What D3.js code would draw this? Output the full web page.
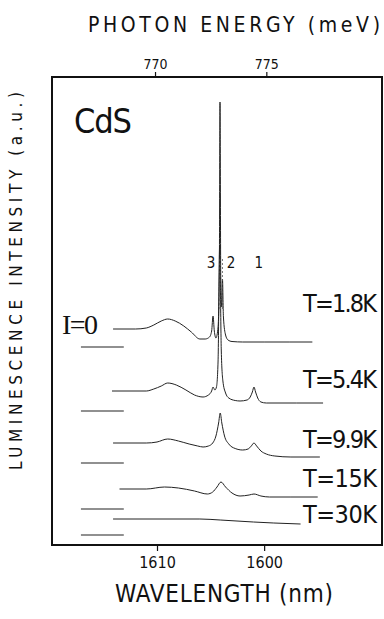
<!DOCTYPE html>
<html>
<head>
<meta charset="utf-8">
<script src="https://cdn.jsdelivr.net/npm/d3@7"></script>
<style>
  body { margin: 0; background: #fff; }
  svg { display: block; }
  text { font-family: "Liberation Sans Narrow", "DejaVu Sans Condensed", "Liberation Sans", sans-serif; fill: #111; }
</style>
</head>
<body>
<div id="chart"></div>
<script>
// temperatures, zero levels (a.u.) and spectra [wavelength nm, intensity above zero a.u.]
const temps = ['T=1.8K', 'T=5.4K', 'T=9.9K', 'T=15K', 'T=30K']
const zeroLevels = [198, 134, 82, 36, 10]
const spec18 = [[1614.1,18],[1612.0,18],[1611.0,19],[1610.3,22],[1609.6,26],[1609.0,28],[1608.3,26],[1607.5,21],[1606.8,15],[1606.0,8],[1605.5,8],[1605.1,10],[1604.9,16],[1604.77,31],[1604.65,16],[1604.5,9],[1604.3,20],[1604.18,80],[1604.12,245],[1604.05,70],[1603.95,40],[1603.89,68],[1603.8,30],[1603.6,12],[1603.37,7],[1603.0,5.5],[1602.0,5],[1600.0,5],[1597.6,5],[1595.5,5]]
const spec54 = [[1614.2,20],[1611.0,20],[1610.3,22],[1609.6,25],[1609.0,28],[1608.2,26],[1607.3,21],[1606.5,16],[1605.7,14],[1605.2,16],[1604.9,20],[1604.77,24],[1604.6,21],[1604.45,24],[1604.3,50],[1604.15,166],[1604.0,60],[1603.85,30],[1603.6,18],[1603.3,13],[1602.7,10.5],[1602.25,10],[1601.6,11],[1601.3,14],[1601.1,19],[1600.95,24],[1600.8,19],[1600.6,13],[1600.3,9],[1599.8,8],[1597.0,8],[1594.5,8]]
const spec99 = [[1614.1,20],[1611.0,20],[1610.0,21],[1609.0,24],[1608.0,22],[1607.0,19],[1606.2,17],[1605.7,16],[1605.2,17],[1604.8,20],[1604.5,27],[1604.25,40],[1604.1,50],[1603.95,40],[1603.7,27],[1603.3,19],[1602.7,14.5],[1602.0,13],[1601.5,14],[1601.2,17],[1600.95,20],[1600.7,17],[1600.3,12],[1599.8,9],[1599.0,7],[1597.5,6],[1594.8,6]]
const spec15 = [[1613.5,20],[1611.0,20],[1609.3,22],[1608.0,21],[1606.5,18],[1605.3,15],[1604.8,17],[1604.4,22],[1604.03,27],[1603.6,22],[1603.0,16],[1602.25,13],[1601.4,14],[1600.95,15],[1600.3,13],[1599.5,12],[1597.5,12],[1595.0,12]]
const spec30 = [[1614.1,16],[1610.0,16],[1606.0,16],[1604.1,15],[1601.0,13],[1599.1,12],[1596.6,11]]
const spectra = [spec18, spec54, spec99, spec15, spec30]
const zeroSpan = [1617.1, 1613.1]
const peakLabels = [['3', 1604.95], ['2', 1603.1], ['1', 1600.5]]
const peakMarks = [1604.12, 1603.89]
const waveTicks = [1610, 1600]
const energyTicks = [770, 775]
const hc = 1239842  // meV * nm

const W = 384, H = 619
const m = { left: 52, top: 77, right: 382, bottom: 545 }

const svg = d3.select('#chart').append('svg').attr('width', W).attr('height', H)

const x = d3.scaleLinear().domain([1619.8, 1589]).range([m.left, m.right])
const y = d3.scaleLinear().domain([0, 468]).range([m.bottom, m.top])

// axes
svg.append('g')
  .attr('transform', 'translate(0,' + m.bottom + ')')
  .call(d3.axisBottom(x).tickValues(waveTicks).tickSize(6).tickPadding(6).tickFormat(d3.format('d')))
  .call(g => g.select('.domain').remove())
  .call(g => g.selectAll('line').attr('stroke', '#111').attr('stroke-width', 1.2))
  .call(g => g.selectAll('text').attr('font-size', 16).attr('fill', '#111'))

svg.append('g')
  .attr('transform', 'translate(0,' + m.top + ')')
  .call(d3.axisTop(x).tickValues(energyTicks.map(e => hc / e)).tickSize(5).tickPadding(3).tickFormat(l => Math.round(hc / l)))
  .call(g => g.select('.domain').remove())
  .call(g => g.selectAll('line').attr('stroke', '#111').attr('stroke-width', 1.2))
  .call(g => g.selectAll('text').attr('font-size', 14).attr('fill', '#111'))

// frame
svg.append('rect')
  .attr('x', m.left).attr('y', m.top)
  .attr('width', m.right - m.left).attr('height', m.bottom - m.top)
  .attr('fill', 'none').attr('stroke', '#111').attr('stroke-width', 2)

// zero level marks
svg.selectAll('.zero')
  .data(zeroLevels)
  .enter()
  .append('line')
  .attr('class', 'zero')
  .attr('x1', x(zeroSpan[0])).attr('x2', x(zeroSpan[1]))
  .attr('y1', d => y(d)).attr('y2', d => y(d))
  .attr('stroke', '#222').attr('stroke-width', 1.2)

// spectra
const line = d3.line()
  .curve(d3.curveMonotoneX)

svg.selectAll('.spec')
  .data(spectra)
  .enter()
  .append('path')
  .attr('class', 'spec')
  .attr('d', (d, i) => line(d.slice().reverse().map(p => [x(p[0]), y(zeroLevels[i] + p[1])])))
  .attr('fill', 'none')
  .attr('stroke', '#222')
  .attr('stroke-width', 1)

// peak markers (dashed)
svg.selectAll('.mark')
  .data(peakMarks)
  .enter()
  .append('line')
  .attr('x1', d => x(d)).attr('x2', d => x(d))
  .attr('y1', y(zeroLevels[0] + 38)).attr('y2', y(zeroLevels[0] + 90))
  .attr('stroke', '#555').attr('stroke-width', 0.8).attr('stroke-dasharray', '2,2')

svg.selectAll('.plabel')
  .data(peakLabels)
  .enter()
  .append('text')
  .attr('x', d => x(d[1])).attr('y', 268)
  .attr('text-anchor', 'middle')
  .attr('font-size', 15)
  .text(d => d[0])

// temperature labels
const tempY = [312, 388, 448, 487, 523]
svg.selectAll('.tlabel')
  .data(temps)
  .enter()
  .append('text')
  .attr('x', 303).attr('y', (d, i) => tempY[i])
  .attr('font-size', 25)
  .attr('textLength', 74).attr('lengthAdjust', 'spacing')
  .text(d => d)

svg.append('text').attr('x', 74).attr('y', 133).attr('font-size', 34)
  .attr('textLength', 58).attr('lengthAdjust', 'spacing').text('CdS')

svg.append('text').attr('x', 62).attr('y', 334).attr('font-size', 28)
  .attr('textLength', 36).attr('lengthAdjust', 'spacing')
  .style('font-family', '"Liberation Serif", serif').text('I=0')

// titles
svg.append('text').attr('x', 88).attr('y', 32).attr('font-size', 21)
  .attr('textLength', 292).attr('lengthAdjust', 'spacing')
  .text('PHOTON ENERGY (meV)')

svg.append('text').attr('x', 115).attr('y', 602).attr('font-size', 24)
  .attr('textLength', 218).attr('lengthAdjust', 'spacing')
  .text('WAVELENGTH (nm)')

svg.append('text')
  .attr('transform', 'translate(22,470) rotate(-90)')
  .attr('font-size', 17)
  .attr('textLength', 378).attr('lengthAdjust', 'spacing')
  .text('LUMINESCENCE INTENSITY (a.u.)')
</script>
</body>
</html>
